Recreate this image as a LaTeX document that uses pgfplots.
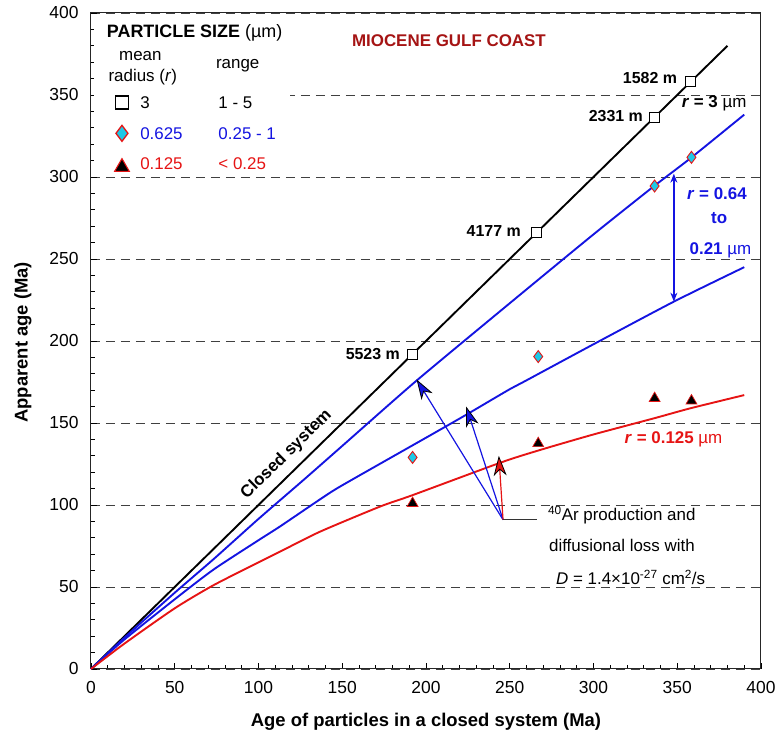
\documentclass[border=0pt]{standalone}
\usepackage{pgfplots}
\pgfplotsset{compat=1.18}
\usepackage{fontspec}
\setmainfont{Liberation Sans}
\usetikzlibrary{arrows.meta}
\definecolor{cblue}{RGB}{20,20,225}
\definecolor{cred}{RGB}{230,20,20}
\definecolor{dred}{RGB}{165,20,20}
\definecolor{ccyan}{RGB}{30,200,230}
\begin{document}
\begin{tikzpicture}
\begin{axis}[
  scale only axis, width=670bp, height=656bp,
  xmin=0, xmax=400, ymin=0, ymax=400,
  xtick={0,50,...,400}, ytick={0,50,...,400},
  minor x tick num=4, minor y tick num=4,
  tick align=inside, xtick pos=left, ytick pos=left,
  major tick length=6bp, minor tick length=4bp,
  axis line style={black!85, line width=1pt},
  tick style={black, line width=0.8pt},
  ymajorgrids,
  major grid style={black!75, dash pattern=on 9bp off 6bp, line width=0.8pt},
  /pgf/number format/assume math mode=true,
  ticklabel style={font=\fontsize{17.5}{20}\selectfont},
  yticklabel style={xshift=-9bp},
  xticklabel style={yshift=-9bp},
  xlabel={\textbf{Age of particles in a closed system (Ma)}},
  ylabel={\textbf{Apparent age (Ma)}},
  label style={font=\fontsize{18.5}{21}\selectfont},
  xlabel style={at={(axis description cs:0.5,-0.0805)}, anchor=center},
  ylabel style={at={(axis description cs:-0.1015,0.498)}, anchor=center},
  clip=false,
]
\path (rel axis cs:-0.1358,-0.096) rectangle (rel axis cs:1.0269,1.0198);
% legend background
\fill[white] (axis cs:2,300) rectangle (axis cs:119,398);

% closed system
\addplot[black, line width=1.9pt] coordinates {(0,0) (380,380)};
% upper blue
\addplot[cblue, line width=1.9pt, smooth, tension=0.4] coordinates {
(0,0) (20,19.1) (50,46.5) (73,66.8) (100,91.5) (126.6,115) (150,136) (194,175.5)
(250,223) (300,265) (336,294.3) (358,311.5) (390,338)};
% lower blue
\addplot[cblue, line width=1.9pt, smooth, tension=0.4] coordinates {
(0,0) (20,18) (50,42.5) (73,60.5) (100,78.5) (113,87) (137,103.6) (150,112)
(200,141) (224,155) (249,170) (260,176) (300,198) (348,224) (390,245)};
% red
\addplot[cred, line width=1.9pt, smooth, tension=0.4] coordinates {
(0,0) (20,15.5) (50,37) (73,51) (100,65) (112.8,71.5) (136.7,83.7) (172.5,99)
(192,106) (245,126) (268,133.5) (300,143) (336.7,153) (358,159) (390,167)};

% data points
\addplot[only marks, mark=square*, mark size=5bp, mark options={fill=white, draw=black, line width=1.1pt}]
  coordinates {(192,192) (266,266) (336.5,336.5) (358,358)};
\addplot[only marks, mark=diamond*, mark size=6bp, mark options={fill=ccyan, draw=cred, line width=0.9pt}]
  coordinates {(192,129) (267,190.5) (336.5,294.5) (358.5,312)};
\addplot[only marks, mark=triangle*, mark size=6.3bp, mark options={fill=black, draw=cred, line width=0.7pt}]
  coordinates {(192,101) (267,137.5) (336.5,165) (358.5,163.5)};

% legend markers
\addplot[only marks, mark=square, mark size=6.5bp, mark options={draw=black, line width=1.6pt}]
  coordinates {(18.5,345.3)};
\addplot[only marks, mark=diamond*, mark size=8bp, mark options={fill=ccyan, draw=cred, line width=1.3pt}]
  coordinates {(18.5,326.6)};
\addplot[only marks, mark=triangle*, mark size=8.5bp, mark options={fill=black, draw=cred, line width=1.1pt}]
  coordinates {(18.5,306)};

% legend text
\begin{scope}[every node/.style={font=\fontsize{17}{20}\selectfont, inner sep=0pt}]
\node[anchor=west] at (axis cs:9.4,387.6) {\fontsize{18}{20}\selectfont\textbf{PARTICLE SIZE} (µm)};
\node at (axis cs:29.5,374) {mean};
\node at (axis cs:30.9,361) {radius (\textit{r})};
\node at (axis cs:87.6,367.7) {range};
\node[anchor=west] at (axis cs:29.3,345.3) {3};
\node[anchor=west] at (axis cs:76,345.3) {1 - 5};
\node[anchor=west, text=cblue] at (axis cs:29.3,326.2) {0.625};
\node[anchor=west, text=cblue] at (axis cs:76,326.2) {0.25 - 1};
\node[anchor=west, text=cred] at (axis cs:29.3,308) {0.125};
\node[anchor=west, text=cred] at (axis cs:76,308) {< 0.25};
\end{scope}

\node[font=\fontsize{17}{20}\selectfont\bfseries, text=dred, inner sep=0pt] at (axis cs:213.7,383) {MIOCENE GULF COAST};

\begin{scope}[every node/.style={font=\fontsize{16}{19}\selectfont\bfseries, inner sep=0pt}]
\node[anchor=east] at (axis cs:350,360.4) {1582 m};
\node[anchor=east] at (axis cs:329.6,337) {2331 m};
\node[anchor=east] at (axis cs:256.7,267) {4177 m};
\node[anchor=east] at (axis cs:184.5,192) {5523 m};
\end{scope}
\begin{scope}[every node/.style={font=\fontsize{17}{20}\selectfont\bfseries, inner sep=0pt}]
\node[rotate=44.4] at (axis cs:116.7,130.8) {Closed system};
\node at (axis cs:372,345) {\textit{r} = 3 \mdseries µm};
\node[text=cblue] at (axis cs:373.7,290) {\textit{r} = 0.64};
\node[text=cblue] at (axis cs:375,275) {to};
\node[text=cblue] at (axis cs:375.8,255) {0.21 \mdseries µm};
\node[text=cred] at (axis cs:347.8,140.2) {\textit{r} = 0.125 \mdseries µm};
\end{scope}

% annotation arrows
\draw[cblue, line width=1.2pt, -{Stealth[length=20bp, width=13bp, inset=6bp, fill=cblue, color=black, line width=0.8pt]}] (axis cs:246,91) -- (axis cs:194.4,176.5);
\draw[cblue, line width=1.2pt, -{Stealth[length=20bp, width=13bp, inset=6bp, fill=cblue, color=black, line width=0.8pt]}] (axis cs:246,91) -- (axis cs:224,160);
\draw[cred, line width=1.2pt, -{Stealth[length=20bp, width=13bp, inset=6bp, fill=cred, color=black, line width=0.8pt]}] (axis cs:246,91) -- (axis cs:243.5,130);
\draw[black!80, line width=0.9pt] (axis cs:246,91) -- (axis cs:266,91);
\draw[cblue, line width=1.3pt, {Stealth[length=9bp, width=7bp]}-{Stealth[length=9bp, width=7bp]}] (axis cs:348,224) -- (axis cs:348,302);

\begin{scope}[every node/.style={font=\fontsize{17}{20}\selectfont, inner sep=0pt, anchor=west}]
\node at (axis cs:272.8,94) {\textsuperscript{40}Ar production and};
\node at (axis cs:273.4,75.6) {diffusional loss with};
\node at (axis cs:277.6,56) {\textit{D} = 1.4×10\textsuperscript{-27} cm\textsuperscript{2}/s};
\end{scope}
\end{axis}
\end{tikzpicture}
\end{document}
